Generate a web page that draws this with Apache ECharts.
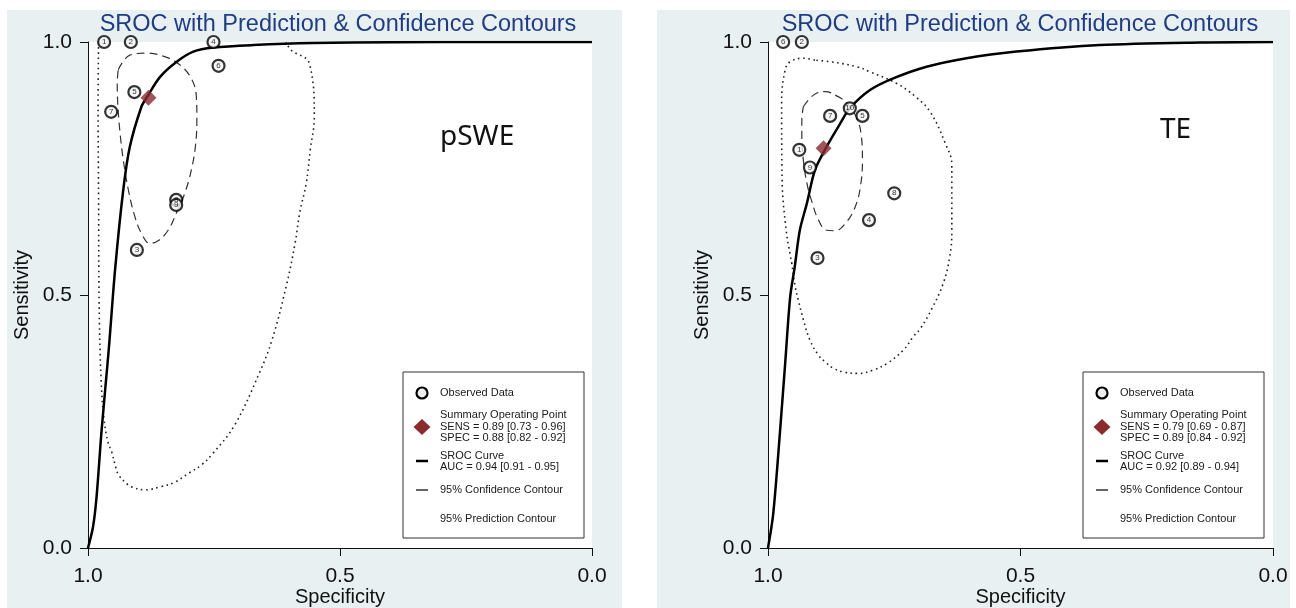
<!DOCTYPE html>
<html>
<head>
<meta charset="utf-8">
<title>SROC</title>
<script src="https://cdn.jsdelivr.net/npm/echarts@6/dist/echarts.min.js"></script>
<style>
html, body { margin: 0; padding: 0; background: #fff; }
#container { width: 1296px; height: 608px; }
</style>
</head>
<body>
<div id="container"></div>
<script>
// pSWE panel: [specificity, sensitivity, study id]
var leftStudies = [
  [0.968, 1.000, '1'], [0.915, 1.000, '2'], [0.903, 0.589, '3'],
  [0.751, 1.000, '4'], [0.908, 0.901, '5'], [0.741, 0.953, '6'],
  [0.954, 0.862, '7'], [0.825, 0.688, '8'], [0.825, 0.678, '9']
];
var leftSummary = [[0.88, 0.89]];
var leftCurve = [
  [1.0, 0], [0.990, 0.042], [0.983, 0.101], [0.973, 0.233], [0.959, 0.39],
  [0.946, 0.553], [0.930, 0.708], [0.917, 0.793], [0.894, 0.872], [0.883, 0.891],
  [0.857, 0.931], [0.824, 0.961], [0.791, 0.981], [0.751, 0.989], [0.672, 0.994],
  [0.553, 0.998], [0.40, 0.9995], [0.20, 1.0], [0.0, 1.0]
];
var leftConf = [
  [0.940, 0.945], [0.917, 0.974], [0.884, 0.978], [0.848, 0.971], [0.818, 0.955],
  [0.795, 0.928], [0.785, 0.892], [0.784, 0.846], [0.787, 0.793], [0.795, 0.747],
  [0.808, 0.701], [0.825, 0.661], [0.841, 0.628], [0.861, 0.607], [0.877, 0.602],
  [0.894, 0.622], [0.907, 0.655], [0.920, 0.708], [0.930, 0.767], [0.937, 0.826],
  [0.941, 0.879], [0.942, 0.918], [0.940, 0.945]
];
var leftPred = [
  [0.979, 1.0], [0.980, 0.885], [0.979, 0.688], [0.978, 0.490], [0.974, 0.332],
  [0.968, 0.253], [0.960, 0.208], [0.953, 0.190], [0.945, 0.160], [0.939, 0.144],
  [0.921, 0.125], [0.915, 0.121], [0.887, 0.115], [0.856, 0.121], [0.828, 0.130],
  [0.800, 0.148], [0.775, 0.164], [0.753, 0.186], [0.709, 0.243], [0.660, 0.346],
  [0.635, 0.411], [0.607, 0.516], [0.589, 0.603], [0.580, 0.662], [0.567, 0.721],
  [0.559, 0.787], [0.551, 0.852], [0.561, 0.958], [0.597, 0.984], [0.607, 1.0]
];
var leftStats = [
  'Summary Operating Point', 'SENS = 0.89 [0.73 - 0.96]', 'SPEC = 0.88 [0.82 - 0.92]',
  'SROC Curve', 'AUC = 0.94 [0.91 - 0.95]'
];

// TE panel
var rightStudies = [
  [0.938, 0.787, '1'], [0.933, 1.000, '2'], [0.902, 0.573, '3'],
  [0.800, 0.648, '4'], [0.813, 0.854, '5'], [0.970, 1.000, '6'],
  [0.877, 0.854, '7'], [0.750, 0.701, '8'], [0.917, 0.752, '9'],
  [0.838, 0.869, '10']
];
var rightSummary = [[0.89, 0.79]];
var rightCurve = [
  [1.0, 0], [0.9895, 0.069], [0.976, 0.233], [0.966, 0.365], [0.956, 0.497],
  [0.947, 0.556], [0.937, 0.628], [0.923, 0.681], [0.907, 0.747], [0.884, 0.793],
  [0.857, 0.839], [0.838, 0.869], [0.798, 0.905], [0.752, 0.928], [0.686, 0.951],
  [0.607, 0.968], [0.508, 0.981], [0.343, 0.994], [0.145, 0.999], [0.0, 1.0]
];
var rightConf = [
  [0.930, 0.872], [0.910, 0.895], [0.887, 0.902], [0.861, 0.892], [0.844, 0.879],
  [0.824, 0.849], [0.815, 0.813], [0.813, 0.767], [0.817, 0.714], [0.827, 0.675],
  [0.844, 0.645], [0.867, 0.627], [0.884, 0.628], [0.900, 0.648], [0.913, 0.684],
  [0.923, 0.721], [0.930, 0.767], [0.933, 0.813], [0.933, 0.846], [0.930, 0.872]
];
var rightPred = [
  [0.907, 0.964], [0.930, 0.968], [0.956, 0.961], [0.966, 0.945], [0.973, 0.882],
  [0.972, 0.727], [0.964, 0.628], [0.956, 0.579], [0.953, 0.563], [0.946, 0.516],
  [0.940, 0.490], [0.930, 0.451], [0.917, 0.411], [0.900, 0.381], [0.887, 0.368],
  [0.870, 0.355], [0.851, 0.348], [0.821, 0.345], [0.791, 0.352], [0.764, 0.365],
  [0.732, 0.391], [0.712, 0.418], [0.698, 0.434], [0.675, 0.474], [0.653, 0.523],
  [0.640, 0.576], [0.636, 0.628], [0.636, 0.714], [0.636, 0.757], [0.649, 0.800],
  [0.679, 0.862], [0.708, 0.892], [0.745, 0.918], [0.798, 0.941], [0.824, 0.951],
  [0.877, 0.961], [0.907, 0.964]
];
var rightStats = [
  'Summary Operating Point', 'SENS = 0.79 [0.69 - 0.87]', 'SPEC = 0.89 [0.84 - 0.92]',
  'SROC Curve', 'AUC = 0.92 [0.89 - 0.94]'
];

var titleText = 'SROC with Prediction & Confidence Contours';
var FONT = 'Arial, "Liberation Sans", sans-serif';

function makeX(idx) {
  return {
    gridIndex: idx, type: 'value', min: 0, max: 1, interval: 0.5, inverse: true,
    name: 'Specificity', nameLocation: 'middle', nameGap: 39, nameMoveOverlap: false,
    nameTextStyle: { fontSize: 20, color: '#111', fontFamily: FONT },
    axisLine: { show: true, onZero: false, lineStyle: { color: '#111', width: 1 } },
    axisTick: { show: true, length: 8, lineStyle: { color: '#111' } },
    axisLabel: { fontSize: 21, color: '#111', fontFamily: FONT, margin: 18,
      formatter: function (v) { return v.toFixed(1); } },
    splitLine: { show: false }
  };
}
function makeY(idx) {
  return {
    gridIndex: idx, type: 'value', min: 0, max: 1, interval: 0.5,
    name: 'Sensitivity', nameLocation: 'middle', nameGap: 56, nameMoveOverlap: false,
    nameTextStyle: { fontSize: 20, color: '#111', fontFamily: FONT },
    axisLine: { show: true, onZero: false, lineStyle: { color: '#111', width: 1 } },
    axisTick: { show: true, length: 8, lineStyle: { color: '#111' } },
    axisLabel: { fontSize: 21, color: '#111', fontFamily: FONT, margin: 16,
      formatter: function (v) { return v.toFixed(1); } },
    splitLine: { show: false }
  };
}

function panelSeries(idx, studies, summary, curve, conf, pred) {
  return [
    { type: 'line', xAxisIndex: idx, yAxisIndex: idx, data: pred, showSymbol: false,
      smooth: 0.4, lineStyle: { color: '#222', width: 1.6, type: [1.6, 3.6] }, z: 2 },
    { type: 'line', xAxisIndex: idx, yAxisIndex: idx, data: conf, showSymbol: false,
      smooth: 0.4, lineStyle: { color: '#333', width: 1.2, type: [8, 5] }, z: 2 },
    { type: 'line', xAxisIndex: idx, yAxisIndex: idx, data: curve, showSymbol: false,
      smooth: 0.3, lineStyle: { color: '#000', width: 2.5 }, z: 3 },
    { type: 'scatter', xAxisIndex: idx, yAxisIndex: idx, clip: false,
      data: studies.map(function (d) { return { value: [d[0], d[1]], name: d[2] }; }),
      symbol: 'circle', symbolSize: 12,
      itemStyle: { color: '#f4f4f4', borderColor: '#000', borderWidth: 2.2 },
      label: { show: true, position: 'inside', formatter: '{b}', fontSize: 8,
        color: '#000', fontFamily: FONT }, z: 4 },
    { type: 'scatter', xAxisIndex: idx, yAxisIndex: idx, clip: false, data: summary,
      symbol: 'diamond', symbolSize: 16, itemStyle: { color: '#8b2b2e' }, z: 5 }
  ];
}

// legend box drawn by hand (Stata style)
function legendBox(x0, stats) {
  var txt = function (s, y) {
    return { type: 'text', x: 37, y: y, style: { text: s, fill: '#1a1a1a', font: '11px ' + FONT,
      verticalAlign: 'middle' } };
  };
  return {
    type: 'group', x: x0, y: 372, z: 50,
    children: [
      { type: 'rect', shape: { x: 0, y: 0, width: 181, height: 166 },
        style: { fill: '#fff', stroke: '#333', lineWidth: 1 } },
      { type: 'circle', shape: { cx: 19, cy: 21, r: 5.5 },
        style: { fill: '#eee', stroke: '#000', lineWidth: 2.2 } },
      txt('Observed Data', 21),
      { type: 'polygon', shape: { points: [[19, 47], [27.5, 55], [19, 63], [10.5, 55]] },
        style: { fill: '#8b2b2e' } },
      txt(stats[0], 43), txt(stats[1], 55), txt(stats[2], 66),
      { type: 'line', shape: { x1: 13, y1: 89, x2: 25, y2: 89 },
        style: { stroke: '#000', lineWidth: 2.5 } },
      txt(stats[3], 84), txt(stats[4], 95),
      { type: 'line', shape: { x1: 13, y1: 118, x2: 25, y2: 118 },
        style: { stroke: '#000', lineWidth: 1.2 } },
      txt('95% Confidence Contour', 118),
      txt('95% Prediction Contour', 147)
    ]
  };
}

var dom = document.getElementById('container');
var myChart = echarts.init(dom);
var option = {
  animation: false,
  backgroundColor: '#fff',
  title: [
    { text: titleText, left: 333, top: 8, textAlign: 'center',
      textStyle: { fontSize: 23.5, fontWeight: 'normal', color: '#1f3c88', fontFamily: FONT } },
    { text: titleText, left: 1015, top: 8, textAlign: 'center',
      textStyle: { fontSize: 23.5, fontWeight: 'normal', color: '#1f3c88', fontFamily: FONT } }
  ],
  grid: [
    { left: 88, right: 704, top: 42, bottom: 60, outerBoundsMode: 'none',
      show: true, backgroundColor: '#fff', borderWidth: 0 },
    { left: 768, right: 23, top: 42, bottom: 60, outerBoundsMode: 'none',
      show: true, backgroundColor: '#fff', borderWidth: 0 }
  ],
  xAxis: [makeX(0), makeX(1)],
  yAxis: [makeY(0), makeY(1)],
  graphic: [
    { type: 'rect', z: -10, shape: { x: 7, y: 10, width: 615, height: 598 }, style: { fill: '#e8f0f2' } },
    { type: 'rect', z: -10, shape: { x: 657, y: 10, width: 633, height: 598 }, style: { fill: '#e8f0f2' } },
    { type: 'text', x: 440, y: 137, z: 20, style: { text: 'pSWE', fill: '#111',
      font: '28px "Noto Sans", sans-serif', verticalAlign: 'middle' } },
    { type: 'text', x: 1160, y: 130, z: 20, style: { text: 'TE', fill: '#111',
      font: '28px "Noto Sans", sans-serif', verticalAlign: 'middle' } },
    legendBox(403, leftStats),
    legendBox(1083, rightStats)
  ],
  series: panelSeries(0, leftStudies, leftSummary, leftCurve, leftConf, leftPred)
    .concat(panelSeries(1, rightStudies, rightSummary, rightCurve, rightConf, rightPred))
};
myChart.setOption(option);
</script>
</body>
</html>
